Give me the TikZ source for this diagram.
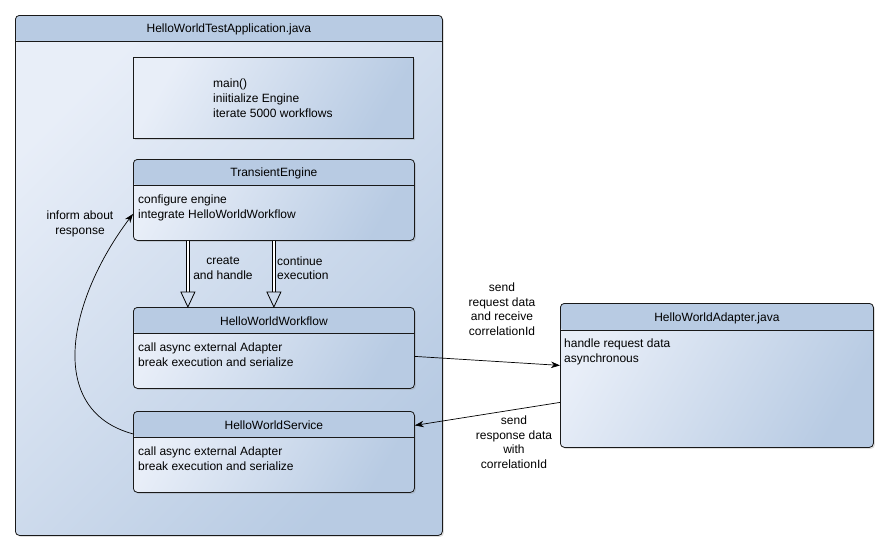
\documentclass[tikz,border=0pt]{standalone}
\usepackage{fontspec}
\setmainfont{Liberation Sans}
\usetikzlibrary{arrows.meta,shadows,calc}
\definecolor{gLight}{HTML}{E8EEF8}
\definecolor{gDark}{HTML}{B8CBE3}
\definecolor{hdr}{HTML}{B8CBE3}
\tikzset{
  txt/.style={font=\fontsize{12pt}{15pt}\selectfont, inner sep=0pt},
  lbl/.style={font=\fontsize{12pt}{14.5pt}\selectfont, inner sep=0pt},
  shbox/.style={draw=black!90, line width=0.8pt, left color=gLight, right color=gDark,
    shading angle=60, inner sep=0pt, anchor=north west,
    drop shadow={shadow xshift=1.5pt, shadow yshift=-1.5pt, opacity=0.25}},
  classbox/.style={shbox, rounded corners=4pt,
    path picture={\fill[hdr] (path picture bounding box.north west) rectangle ([yshift=-#1]path picture bounding box.north east);
      \draw[black!90, line width=0.8pt] ([yshift=-#1]path picture bounding box.north west) -- ([yshift=-#1]path picture bounding box.north east);}},
  conn/.style={draw=black, line width=0.7pt, -{Stealth[length=9pt, width=6.5pt]}},
  dblshaft/.style={draw=black, line width=0.8pt, double=white, double distance=2.2pt},
  openhead/.style={draw=black, line width=0.8pt, line join=miter},
}
\begin{document}
\begin{tikzpicture}[x=1pt, y=-1pt]
\useasboundingbox (0,0) rectangle (887,550);
\fill[white] (0,0) rectangle (887,550);

% outer application box
\node[classbox=26pt, shading angle=45, minimum width=427pt, minimum height=520pt] (app) at (15,15) {};
\node[txt] (appT) at ([yshift=-14pt]app.north) {HelloWorldTestApplication.java};

% main box
\node[shbox, minimum width=280pt, minimum height=81pt] (mainb) at (133,57) {};
\node[txt, anchor=north west, align=left] (mainT) at ([xshift=80pt, yshift=-21.5pt]mainb.north west) {main()\\iniitialize Engine\\iterate 5000 workflows};

% TransientEngine
\node[classbox=26pt, minimum width=281pt, minimum height=81pt] (te) at (133,159) {};
\node[txt] (teT) at ([yshift=-14.5pt]te.north) {TransientEngine};
\node[txt, anchor=north west, align=left] (teB) at ([xshift=5pt, yshift=-35.5pt]te.north west) {configure engine\\integrate HelloWorldWorkflow};

% HelloWorldWorkflow
\node[classbox=26pt, minimum width=281pt, minimum height=81pt] (wf) at (133,307) {};
\node[txt] (wfT) at ([yshift=-14.5pt]wf.north) {HelloWorldWorkflow};
\node[txt, anchor=north west, align=left] (wfB) at ([xshift=5pt, yshift=-36pt]wf.north west) {call async external Adapter\\break execution and serialize};

% HelloWorldService
\node[classbox=26pt, minimum width=281pt, minimum height=81pt] (svc) at (133,411) {};
\node[txt] (svcT) at ([yshift=-14.5pt]svc.north) {HelloWorldService};
\node[txt, anchor=north west, align=left] (svcB) at ([xshift=5pt, yshift=-35.5pt]svc.north west) {call async external Adapter\\break execution and serialize};

% Adapter
\node[classbox=27pt, minimum width=313pt, minimum height=144pt] (ad) at (560,303) {};
\node[txt] (adT) at ([yshift=-15pt]ad.north) {HelloWorldAdapter.java};
\node[txt, anchor=north west, align=left] (adB) at ([xshift=4pt, yshift=-35.5pt]ad.north west) {handle request data\\asynchronous};

% double arrows
\draw[dblshaft] ([xshift=-86pt]te.south) -- ([xshift=-86pt, yshift=15pt]wf.north);
\draw[openhead] ([xshift=-86pt]wf.north) -- ++(-7,-15) -- ++(14,0) -- cycle;
\draw[dblshaft] (te.south) -- ([yshift=15pt]wf.north);
\draw[openhead] (wf.north) -- ++(-7,-15) -- ++(14,0) -- cycle;
\node[lbl, align=center] (lblCreate) at (223,268) {create\\and handle};
\node[lbl, align=left, anchor=west] (lblCont) at (277,268) {continue\\execution};

% request / response
\draw[conn] ([yshift=-8.5pt]wf.east) -- ([yshift=10pt]ad.west);
\draw[conn] ([yshift=-27pt]ad.west) -- ([yshift=26.5pt]svc.east);
\node[lbl, align=center] (lblSend) at (502,309) {send\\request data\\and receive\\correlationId};
\node[lbl, align=center] (lblResp) at (514,442) {send\\response data\\with\\correlationId};

% inform about response
\draw[conn] ([yshift=18pt]svc.west) .. controls (45,410) and (68,300) .. ([yshift=-14pt]te.west);
\node[lbl, align=center] (lblInform) at (80,224) {inform about\\response};
\end{tikzpicture}
\end{document}
